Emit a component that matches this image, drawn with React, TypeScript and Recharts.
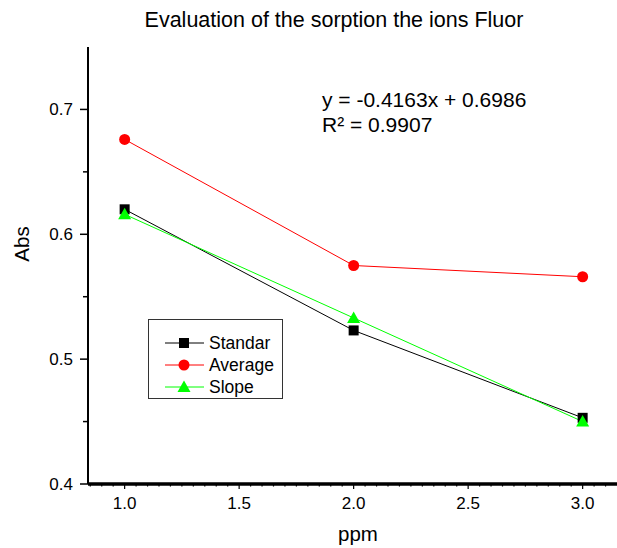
import { LineChart, Line, XAxis, YAxis, Legend } from 'recharts'

// concentration (ppm) and absorbance readings
const ppm = [1, 2, 3]
const standar = [0.62, 0.523, 0.453]
const average = [0.676, 0.575, 0.566]
const slope = [0.616, 0.533, 0.45]

const xTicks = [
  0.85, 0.9, 0.95, 1, 1.05, 1.1, 1.15, 1.2, 1.25, 1.3, 1.35, 1.4, 1.45, 1.5, 1.55, 1.6, 1.65, 1.7, 1.75,
  1.8, 1.85, 1.9, 1.95, 2, 2.05, 2.1, 2.15, 2.2, 2.25, 2.3, 2.35, 2.4, 2.45, 2.5, 2.55, 2.6, 2.65, 2.7,
  2.75, 2.8, 2.85, 2.9, 2.95, 3, 3.05, 3.1,
]
const xMajor = [1, 1.5, 2, 2.5, 3]
const yTicks = [0.4, 0.45, 0.5, 0.55, 0.6, 0.65, 0.7]
const yMajor = [0.4, 0.5, 0.6, 0.7]

const data = ppm.map((x, i) => ({ x, standar: standar[i], average: average[i], slope: slope[i] }))

const FONT = '"Liberation Sans", Arial, Helvetica, sans-serif'

const series = [
  { key: 'standar', name: 'Standar', color: '#000000', marker: 'square' },
  { key: 'average', name: 'Average', color: '#ff0000', marker: 'circle' },
  { key: 'slope', name: 'Slope', color: '#00ff00', marker: 'triangle' },
]

function Marker({ cx, cy, shape, color }: { cx: number; cy: number; shape: string; color: string }) {
  if (shape === 'square') return <rect x={cx - 5} y={cy - 5} width={10} height={10} fill={color} />
  if (shape === 'circle') return <circle cx={cx} cy={cy} r={5.5} fill={color} />
  return <polygon points={`${cx},${cy - 6.5} ${cx - 6.5},${cy + 5} ${cx + 6.5},${cy + 5}`} fill={color} />
}

function YTick({ x, y, payload }: any) {
  const axisX = x + 15
  const major = yMajor.some((v) => Math.abs(v - payload.value) < 1e-6)
  return (
    <g>
      <line x1={axisX} x2={axisX - (major ? 8 : 5)} y1={y} y2={y} stroke="#000" strokeWidth={1.5} />
      {major && (
        <text x={x} y={y} dy={6} textAnchor="end" fontSize={17} fontFamily={FONT} fill="#000">
          {payload.value.toFixed(1)}
        </text>
      )}
    </g>
  )
}

function XTick({ x, y, payload }: any) {
  const axisY = y - 13
  const major = xMajor.some((v) => Math.abs(v - payload.value) < 1e-6)
  return (
    <g>
      <line x1={x} x2={x} y1={axisY} y2={axisY + (major ? 5 : 2.5)} stroke="#000" strokeWidth={1.2} />
      {major && (
        <text x={x} y={y} dy={12} textAnchor="middle" fontSize={17} fontFamily={FONT} fill="#000">
          {payload.value.toFixed(1)}
        </text>
      )}
    </g>
  )
}

function LegendBox() {
  return (
    <div
      style={{
        width: 135,
        height: 80,
        border: '1px solid #333',
        boxSizing: 'border-box',
        background: '#fff',
        fontFamily: FONT,
        fontSize: 17.5,
        color: '#000',
        paddingTop: 12,
      }}
    >
      {series.map((s) => (
        <div key={s.key} style={{ display: 'flex', alignItems: 'center', height: 22 }}>
          <svg width={60} height={22} style={{ flex: 'none' }}>
            <line x1={16} x2={55} y1={11} y2={11} stroke={s.color} strokeWidth={1} />
            <Marker cx={35} cy={11} shape={s.marker} color={s.color} />
          </svg>
          <span>{s.name}</span>
        </div>
      ))}
    </div>
  )
}

export default function App() {
  return (
    <div style={{ position: 'absolute', left: 0, top: 0, background: '#fff' }}>
      <LineChart width={617} height={548} data={data} margin={{ top: 47, right: 0, left: 28, bottom: 34 }}>
        <XAxis
          dataKey="x"
          type="number"
          domain={[0.84, 3.15]}
          ticks={xTicks}
          interval={0}
          height={30}
          tickSize={4}
          tickMargin={9}
          tickLine={false}
          tick={<XTick />}
          axisLine={{ stroke: '#000', strokeWidth: 3.5 }}
          allowDataOverflow
        />
        <YAxis
          type="number"
          domain={[0.4, 0.75]}
          ticks={yTicks}
          interval={0}
          width={60}
          tickSize={8}
          tickMargin={7}
          tickLine={false}
          tick={<YTick />}
          axisLine={{ stroke: '#000', strokeWidth: 2 }}
          allowDataOverflow
        />
        <Legend
          layout="horizontal"
          verticalAlign="middle"
          align="center"
          content={<LegendBox />}
          wrapperStyle={{ left: 148, top: 319, width: 135, height: 80 }}
        />
        {series.map((s) => (
          <Line
            key={s.key}
            dataKey={s.key}
            name={s.name}
            stroke={s.color}
            strokeWidth={1}
            isAnimationActive={false}
            dot={(p: any) => <Marker key={`${s.key}-${p.index}`} cx={p.cx} cy={p.cy} shape={s.marker} color={s.color} />}
            activeDot={false}
          />
        ))}
        <text x={334} y={27} textAnchor="middle" fontSize={21.5} fontFamily={FONT} fill="#000">
          Evaluation of the sorption the ions Fluor
        </text>
        <text x={322} y={107} fontSize={21} fontFamily={FONT} fill="#000">
          y = -0.4163x + 0.6986
        </text>
        <text x={322} y={132} fontSize={21} fontFamily={FONT} fill="#000">
          R² = 0.9907
        </text>
        <text x={358} y={541} textAnchor="middle" fontSize={20.5} fontFamily={FONT} fill="#000">
          ppm
        </text>
        <text
          x={29}
          y={244}
          textAnchor="middle"
          fontSize={20.5}
          fontFamily={FONT}
          fill="#000"
          transform="rotate(-90 29 244)"
        >
          Abs
        </text>
      </LineChart>
    </div>
  )
}
